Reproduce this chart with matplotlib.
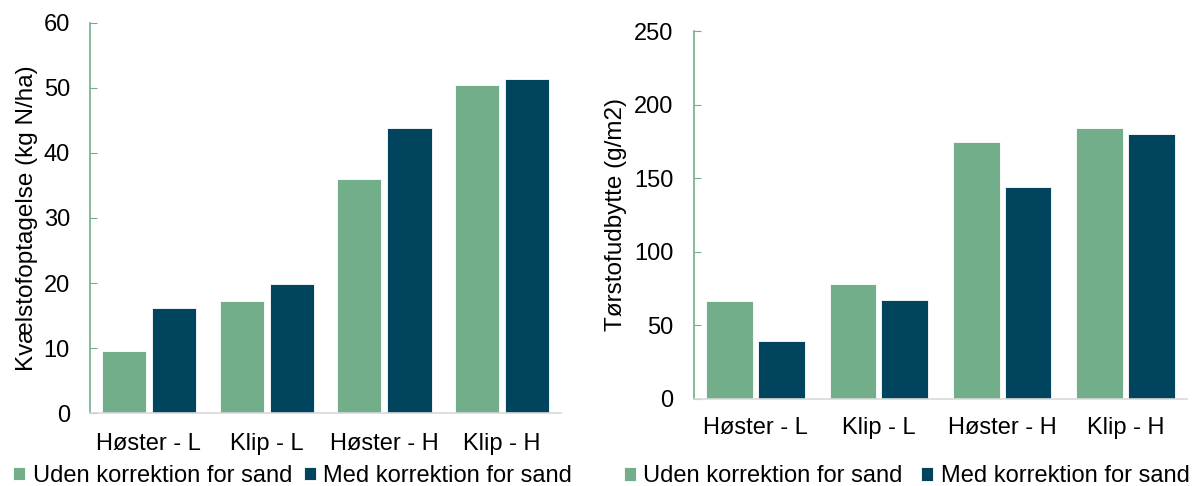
import matplotlib.pyplot as plt
import numpy as np

plt.rcParams['font.family'] = ['Liberation Sans', 'DejaVu Sans']

# Categories and series
categories = ["Høster - L", "Klip - L", "Høster - H", "Klip - H"]
series_names = ["Uden korrektion for sand", "Med korrektion for sand"]

# Nitrogen uptake (kg N/ha)
n_uden = [9.5, 17.2, 36.0, 50.4]
n_med = [16.2, 19.9, 43.8, 51.4]

# Dry matter yield (g/m2)
dm_uden = [66.2, 77.8, 174.7, 183.8]
dm_med = [39.0, 67.0, 143.6, 180.2]

green = "#73AE8A"
dark = "#00445E"

fig = plt.figure(figsize=(11.96, 4.86), dpi=100)
ax1 = fig.add_axes([0.0753, 0.150, 0.3938, 0.803])
ax2 = fig.add_axes([0.5803, 0.180, 0.4122, 0.756])

x = np.arange(len(categories))


def draw(ax, uden, med, ylabel, ymax, step, bw, off, xpad, ypad):
    b1 = ax.bar(x - off, uden, bw, color=green, edgecolor="white", linewidth=0.6)
    b2 = ax.bar(x + off, med, bw, color=dark, edgecolor="white", linewidth=0.6)
    ax.set_xlim(-0.5, 3.5)
    ax.set_ylim(0, ymax)
    ax.set_yticks(np.arange(0, ymax + 1, step))
    ax.set_xticks(x)
    ax.set_xticklabels(categories, fontsize=17)
    ax.tick_params(axis="y", direction="in", length=5, color=green,
                   labelsize=17, pad=ypad)
    ax.tick_params(axis="x", length=0, pad=xpad)
    ax.set_ylabel(ylabel, fontsize=17.5)
    for s in ["top", "right"]:
        ax.spines[s].set_visible(False)
    ax.spines["left"].set_color(green)
    ax.spines["left"].set_linewidth(1.2)
    ax.spines["bottom"].set_color("#d9d9d9")
    ax.spines["bottom"].set_linewidth(1.2)
    return b1, b2


h1 = draw(ax1, n_uden, n_med, "Kvælstofoptagelse (kg N/ha)", 60, 10,
          0.375, 0.2125, 14, 14.5)
h2 = draw(ax2, dm_uden, dm_med, "Tørstofudbytte (g/m2)", 250, 50,
          0.38, 0.21, 13, 15)
ax1.yaxis.labelpad = 4
ax2.yaxis.labelpad = 5

for hs, anchor, gap in [(h1, (0.011, 0.021), 0.5), (h2, (0.5215, 0.02), 0.8)]:
    fig.legend(hs, series_names, loc="center left", bbox_to_anchor=anchor,
               ncol=2, frameon=False, fontsize=17, handlelength=0.5,
               handleheight=0.5, handletextpad=0.32, columnspacing=gap,
               borderpad=0, borderaxespad=0)

fig.savefig("out.png", dpi=100)
